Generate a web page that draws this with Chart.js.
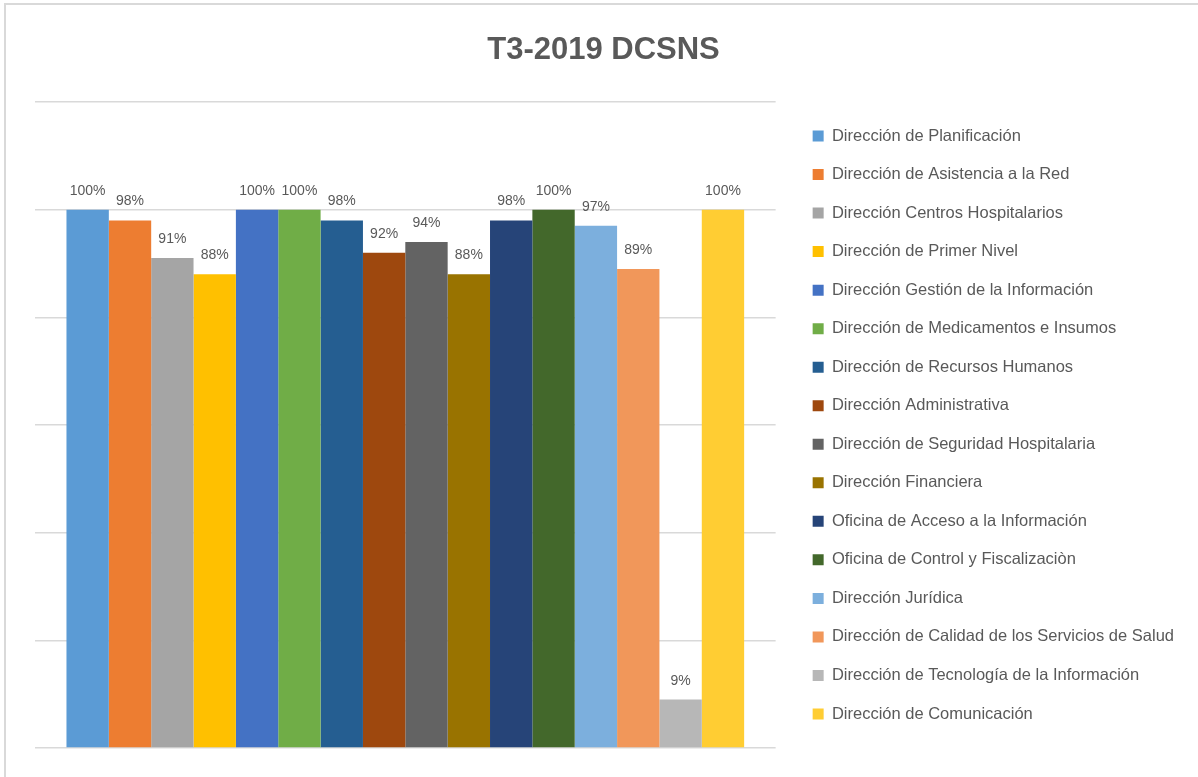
<!DOCTYPE html>
<html>
<head>
<meta charset="utf-8">
<script src="https://cdn.jsdelivr.net/npm/chart.js@4.4.1/dist/chart.umd.min.js"></script>
<style>
  html, body { margin: 0; padding: 0; background: #ffffff; }
  #wrap { position: relative; width: 1198px; height: 777px; }
  #frame { position: absolute; left: 4px; top: 3px; width: 1200px; height: 800px;
           border-left: 2px solid #d9d9d9; border-top: 2px solid #d9d9d9; pointer-events: none; }
</style>
</head>
<body>
<div id="wrap">
  <canvas id="c" width="1198" height="777"></canvas>
  <div id="frame"></div>
</div>
<script>
const title = 'T3-2019 DCSNS';
const categories = ['T3-2019'];
const seriesNames = [
  'Dirección de Planificación',
  'Dirección de Asistencia a la Red',
  'Dirección Centros Hospitalarios',
  'Dirección de Primer Nivel',
  'Dirección Gestión de la Información',
  'Dirección de Medicamentos e Insumos',
  'Dirección de Recursos Humanos',
  'Dirección Administrativa',
  'Dirección de Seguridad Hospitalaria',
  'Dirección Financiera',
  'Oficina de Acceso a la Información',
  'Oficina de Control y Fiscalizaciòn',
  'Dirección Jurídica',
  'Dirección de Calidad de los Servicios de Salud',
  'Dirección de Tecnología de la Información',
  'Dirección de Comunicación'
];
const seriesValues = [100, 98, 91, 88, 100, 100, 98, 92, 94, 88, 98, 100, 97, 89, 9, 100];
const seriesColors = [
  '#5B9BD5', '#ED7D31', '#A5A5A5', '#FFC000', '#4472C4', '#70AD47', '#255E91', '#9E480E',
  '#636363', '#997300', '#264478', '#43682B', '#7CAFDD', '#F1975A', '#B7B7B7', '#FFCD33'
];
const yTicks = [0, 20, 40, 60, 80, 100, 120];

const FONT = "'Liberation Sans', Arial, sans-serif";
const TEXT = '#595959';

const datasets = seriesNames.map((name, i) => ({
  label: name,
  data: [seriesValues[i]],
  backgroundColor: seriesColors[i],
  borderWidth: 0,
  barPercentage: 1.0,
  categoryPercentage: 0.915
}));

const valueLabels = {
  id: 'valueLabels',
  afterDatasetsDraw(chart) {
    const ctx = chart.ctx;
    ctx.save();
    ctx.font = '14px ' + FONT;
    ctx.fillStyle = TEXT;
    ctx.textAlign = 'center';
    ctx.textBaseline = 'alphabetic';
    chart.data.datasets.forEach((ds, i) => {
      const meta = chart.getDatasetMeta(i);
      meta.data.forEach((bar, j) => {
        ctx.fillText(Math.round(ds.data[j]) + '%', bar.x, bar.y - 15);
      });
    });
    ctx.restore();
  }
};

new Chart(document.getElementById('c'), {
  type: 'bar',
  data: { labels: categories, datasets },
  plugins: [valueLabels],
  options: {
    responsive: false,
    animation: false,
    layout: { padding: { left: 23, right: 14, top: 0, bottom: 29 } },
    plugins: {
      title: {
        display: true,
        text: title,
        color: TEXT,
        font: { family: FONT, size: 31, weight: 'bold' },
        padding: { top: 31.4, bottom: 33.4 }
      },
      legend: {
        position: 'right',
        align: 'center',
        fullSize: false,
        maxWidth: 600,
        labels: {
          color: TEXT,
          font: { family: FONT, size: 16.5 },
          boxWidth: 11,
          boxHeight: 11,
          padding: 22.03
        }
      },
      tooltip: { enabled: false }
    },
    scales: {
      x: { display: false },
      y: {
        min: 0, max: 120,
        afterBuildTicks(scale) { scale.ticks = yTicks.map(v => ({ value: v })); },
        ticks: { display: false },
        border: { display: false },
        grid: { color: '#d9d9d9', lineWidth: 1.5, drawTicks: false },
        afterFit(scale) { scale.width = 12; }
      },
      y2: {
        position: 'right',
        display: true,
        ticks: { display: false },
        border: { display: false },
        grid: { display: false, drawTicks: false },
        afterFit(scale) { scale.width = 15; }
      }
    }
  }
});
</script>
</body>
</html>
